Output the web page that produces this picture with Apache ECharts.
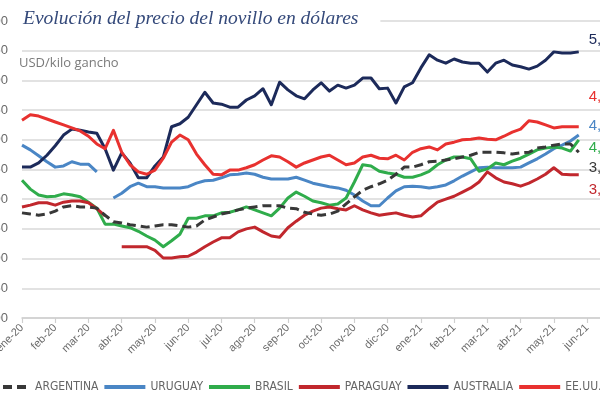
<!DOCTYPE html>
<html>
<head>
<meta charset="utf-8">
<script src="https://cdn.jsdelivr.net/npm/echarts@6/dist/echarts.min.js"></script>
<style>html,body{margin:0;padding:0;background:#fff}#c{width:600px;height:400px}</style>
</head>
<body>
<div id="c"></div>
<script>
// Month tick labels (x axis), weekly points (4 per month)
const months = ['ene-20','feb-20','mar-20','abr-20','may-20','jun-20','jul-20','ago-20','sep-20','oct-20','nov-20','dic-20','ene-21','feb-21','mar-21','abr-21','may-21','jun-21'];
const weeksPerMonth = 4;
const yTicks = [1, 6, 0.5]; // min, max, step

const argentina = [2.77,2.75,2.73,2.75,2.80,2.87,2.89,2.87,2.87,2.85,2.73,2.62,2.60,2.57,2.55,2.53,2.55,2.57,2.57,2.55,2.53,2.55,2.65,2.70,2.75,2.78,2.82,2.85,2.87,2.89,2.89,2.89,2.85,2.84,2.78,2.75,2.73,2.75,2.80,2.92,3.04,3.15,3.21,3.26,3.32,3.42,3.54,3.54,3.58,3.63,3.64,3.66,3.68,3.71,3.74,3.79,3.79,3.79,3.78,3.76,3.78,3.79,3.86,3.88,3.91,3.93,3.93,3.79];
const uruguay = [3.91,3.83,3.73,3.63,3.54,3.56,3.63,3.59,3.59,3.46,null,3.02,3.10,3.21,3.27,3.21,3.21,3.19,3.19,3.19,3.21,3.27,3.31,3.32,3.36,3.41,3.42,3.44,3.42,3.37,3.34,3.34,3.34,3.37,3.32,3.27,3.24,3.21,3.19,3.15,3.07,2.97,2.89,2.89,3.02,3.14,3.21,3.22,3.21,3.19,3.21,3.24,3.31,3.39,3.46,3.53,3.54,3.53,3.53,3.53,3.54,3.61,3.68,3.76,3.85,3.91,3.98,4.08];
const brasil = [3.32,3.17,3.07,3.04,3.05,3.09,3.07,3.04,2.95,2.85,2.58,2.58,2.55,2.52,2.46,2.38,2.31,2.20,2.30,2.41,2.68,2.68,2.72,2.72,2.77,2.78,2.82,2.87,2.82,2.77,2.72,2.85,3.02,3.12,3.05,2.97,2.94,2.90,2.92,3.02,3.29,3.58,3.56,3.47,3.44,3.42,3.37,3.37,3.41,3.47,3.58,3.66,3.71,3.71,3.68,3.47,3.51,3.61,3.58,3.64,3.69,3.76,3.83,3.86,3.88,3.86,3.81,4.00];
const paraguay = [2.87,2.90,2.94,2.94,2.90,2.95,2.97,2.97,2.94,2.84,2.72,null,2.20,2.20,2.20,2.20,2.14,2.01,2.01,2.03,2.04,2.11,2.20,2.28,2.35,2.35,2.45,2.50,2.53,2.45,2.38,2.36,2.52,2.63,2.73,2.80,2.85,2.87,2.84,2.82,2.89,2.82,2.77,2.73,2.75,2.77,2.73,2.70,2.72,2.84,2.95,3.00,3.05,3.12,3.19,3.29,3.46,3.36,3.29,3.26,3.22,3.27,3.34,3.42,3.53,3.42,3.41,3.41];
const australia = [3.54,3.54,3.61,3.74,3.90,4.08,4.18,4.16,4.13,4.11,3.85,3.49,3.78,3.61,3.36,3.36,3.56,3.71,4.22,4.27,4.38,4.59,4.80,4.62,4.60,4.55,4.55,4.67,4.74,4.86,4.59,4.97,4.84,4.74,4.69,4.84,4.96,4.82,4.92,4.87,4.92,5.04,5.04,4.86,4.87,4.62,4.89,4.96,5.21,5.43,5.34,5.29,5.36,5.31,5.29,5.29,5.14,5.29,5.34,5.26,5.23,5.19,5.24,5.34,5.48,5.46,5.46,5.48];
const eeuu = [4.33,4.42,4.40,4.35,4.30,4.25,4.20,4.15,4.06,3.93,3.85,4.16,3.79,3.58,3.46,3.42,3.49,3.69,3.96,4.08,4.00,3.76,3.58,3.42,3.41,3.49,3.49,3.53,3.58,3.66,3.73,3.71,3.63,3.54,3.61,3.66,3.71,3.74,3.66,3.58,3.61,3.71,3.74,3.69,3.68,3.74,3.66,3.79,3.85,3.88,3.83,3.93,3.96,4.00,4.01,4.03,4.01,4.00,4.06,4.13,4.18,4.32,4.30,4.25,4.20,4.22,4.22,4.22];

const seriesNames = ['ARGENTINA','URUGUAY','BRASIL','PARAGUAY','AUSTRALIA','EE.UU.'];
const seriesData = [argentina, uruguay, brasil, paraguay, australia, eeuu];
const colors = ['#383838','#4a86c5','#2fac4b','#c1272d','#1c2a5a','#e8312f'];
const labelDy = [16, -9, 8, 15, -12, -30];

const categories = months.flatMap(m => Array.from({length: weeksPerMonth}, (_, j) => m + ' s' + (j + 1)));
const comma = v => v.toFixed(2).replace('.', ',');

const chart = echarts.init(document.getElementById('c'), null, {renderer: 'canvas'});
chart.setOption({
  animation: false,
  backgroundColor: '#fff',
  title: [{
    text: 'Evolución del precio del novillo en dólares',
    left: 21, top: 4,
    padding: [5, 22, 5, 2],
    backgroundColor: '#fff',
    textStyle: {fontFamily: 'Liberation Serif', fontStyle: 'italic', fontWeight: 'normal', fontSize: 19.5, color: '#34497a'}
  }, {
    text: 'USD/kilo gancho',
    left: 19, top: 57, padding: 0,
    textStyle: {fontFamily: 'Open Sans', fontWeight: 'normal', fontSize: 13, color: '#7a7a7a'}
  }],
  legend: {
    data: seriesNames,
    left: -18, top: 376, width: 700,
    itemWidth: 41, itemHeight: 14, itemGap: 4,
    itemStyle: {opacity: 0},
    lineStyle: {width: 4},
    textStyle: {fontFamily: 'DejaVu Sans Condensed', fontSize: 12, color: '#666'}
  },
  grid: {left: 22, right: -12, top: 21, bottom: 82, containLabel: false, outerBoundsMode: 'none'},
  xAxis: {
    type: 'category',
    data: categories,
    boundaryGap: false,
    axisLine: {lineStyle: {color: '#cfcfcf', width: 1.5}},
    axisTick: {interval: 3, length: 5, lineStyle: {color: '#cfcfcf', width: 1.2}},
    axisLabel: {interval: 3, rotate: 45, margin: 8, fontSize: 11, color: '#6a6a6a', fontFamily: 'Liberation Sans',
      formatter: v => v.split(' ')[0]},
    splitLine: {show: false}
  },
  yAxis: {
    type: 'value',
    min: yTicks[0], max: yTicks[1], interval: yTicks[2],
    axisLine: {show: false}, axisTick: {show: false},
    axisLabel: {margin: 14, fontSize: 13, color: '#6a6a6a', fontFamily: 'Liberation Sans', formatter: comma},
    splitLine: {lineStyle: {color: '#d9d9d9', width: 1.5}}
  },
  series: seriesNames.map((name, i) => ({
    name,
    type: 'line',
    data: seriesData[i],
    symbol: 'none',
    connectNulls: false,
    color: colors[i],
    lineStyle: {width: 3, color: colors[i], type: i === 0 ? [9, 5] : 'solid', cap: 'butt', join: 'round'},
    endLabel: {show: true, formatter: p => comma(p.value), color: colors[i], fontSize: 15,
      fontFamily: 'Liberation Sans', offset: [2, labelDy[i]]},
    z: i === 0 ? 3 : 2
  }))
});
</script>
</body>
</html>
